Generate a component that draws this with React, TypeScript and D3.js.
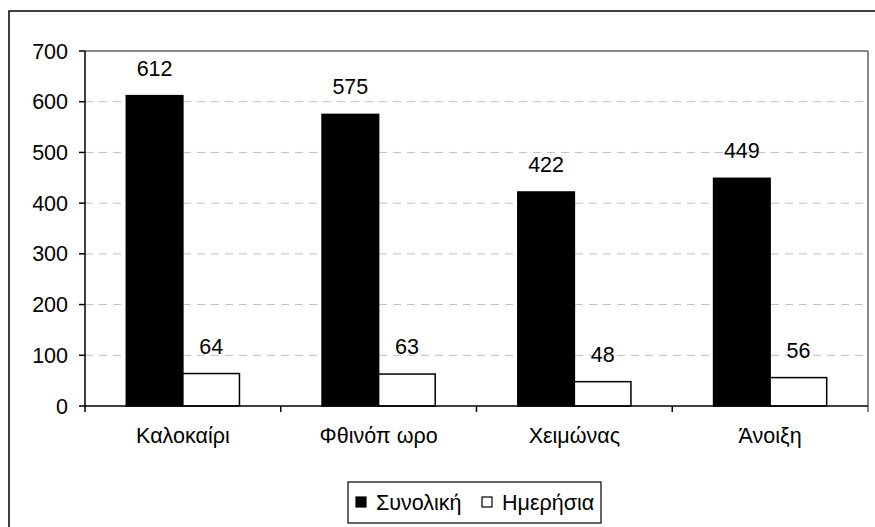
import { scaleBand, scaleLinear } from "d3";

const seasons = ["Καλοκαίρι", "Φθινόπ ωρο", "Χειμώνας", "Άνοιξη"];
const seriesNames = ["Συνολική", "Ημερήσια"];
const totalValues = [612, 575, 422, 449];
const dailyValues = [64, 63, 48, 56];
const yTicks = [0, 100, 200, 300, 400, 500, 600, 700];

const seriesFill = ["#000000", "#ffffff"];

export default function App() {
  const width = 875;
  const height = 527;
  const plot = { left: 85, right: 868, top: 51, bottom: 406 };
  const font = "'Liberation Sans', Arial, sans-serif";
  const fs = 21.5;

  const x = scaleBand().domain(seasons).range([plot.left, plot.right]).padding(0);
  const xs = scaleBand().domain(seriesNames).range([0, x.bandwidth()]).paddingInner(0).paddingOuter(0.73);
  const y = scaleLinear().domain([0, 700]).range([plot.bottom, plot.top]);

  const rows = seasons.map((s, i) => ({ season: s, values: [totalValues[i], dailyValues[i]] }));

  return (
    <svg width={width} height={height} style={{ position: "absolute", left: 0, top: 0, background: "#fff" }} fontFamily={font}>
      <rect x={9} y={11} width={900} height={560} fill="none" stroke="#000" strokeWidth={1.5} />

      {yTicks.filter((t) => t > 0 && t < 700).map((t) => (
        <line key={t} x1={plot.left} x2={plot.right} y1={y(t)} y2={y(t)} stroke="#c0c0c0" strokeDasharray="8 6" />
      ))}
      <line x1={plot.left} x2={plot.right} y1={y(700)} y2={y(700)} stroke="#888" strokeWidth={2} />
      <line x1={plot.right} x2={plot.right} y1={y(700)} y2={plot.bottom + 6} stroke="#888" strokeWidth={2} />

      {rows.map((r) => (
        <g key={r.season}>
          {r.values.map((v, j) => {
            const bx = (x(r.season) ?? 0) + (xs(seriesNames[j]) ?? 0);
            return (
              <g key={j}>
                <rect x={bx} y={y(v)} width={xs.bandwidth()} height={plot.bottom - y(v)} fill={seriesFill[j]} stroke="#000" strokeWidth={1.5} />
                <text x={bx + xs.bandwidth() / 2} y={y(v) - 20} textAnchor="middle" fontSize={fs} fill="#000">
                  {v}
                </text>
              </g>
            );
          })}
          <text x={(x(r.season) ?? 0) + x.bandwidth() / 2} y={443} textAnchor="middle" fontSize={fs} fill="#000">
            {r.season}
          </text>
        </g>
      ))}

      <line x1={plot.left} x2={plot.left} y1={plot.top} y2={plot.bottom} stroke="#000" strokeWidth={1.5} />
      <line x1={plot.left} x2={plot.right} y1={plot.bottom} y2={plot.bottom} stroke="#000" strokeWidth={1.5} />
      {seasons.map((s) => (
        <line key={s} x1={x(s) ?? 0} x2={x(s) ?? 0} y1={plot.bottom} y2={plot.bottom + 6} stroke="#000" strokeWidth={1.5} />
      ))}
      {yTicks.map((t) => (
        <g key={t}>
          <line x1={plot.left - 6} x2={plot.left} y1={y(t)} y2={y(t)} stroke="#000" strokeWidth={1.5} />
          <text x={68} y={y(t) + 7.5} textAnchor="end" fontSize={fs} fill="#000">
            {t}
          </text>
        </g>
      ))}

      <g>
        <rect x={348} y={482} width={253} height={41} fill="#fff" stroke="#000" strokeWidth={1.2} />
        {seriesNames.map((n, j) => {
          const lx = j === 0 ? 356 : 482;
          return (
            <g key={n}>
              <rect x={lx} y={497} width={10} height={10} fill={seriesFill[j]} stroke="#000" strokeWidth={1.2} />
              <text x={lx + 20} y={510} fontSize={fs} fill="#000">
                {n}
              </text>
            </g>
          );
        })}
      </g>
    </svg>
  );
}
